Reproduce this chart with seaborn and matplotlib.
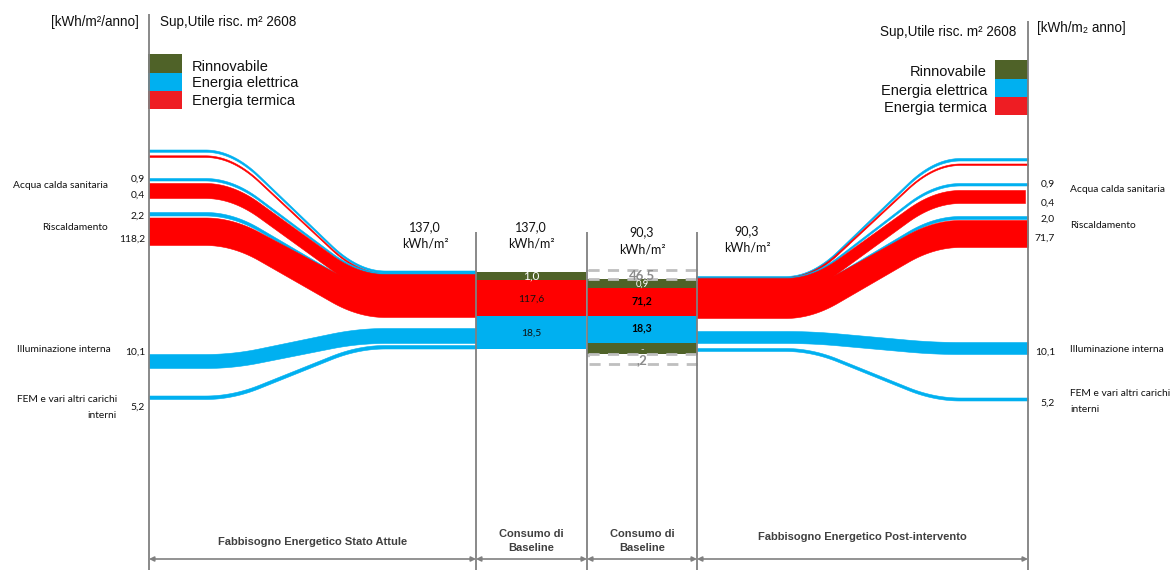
import numpy as np
import matplotlib
matplotlib.use("Agg")
import matplotlib.pyplot as plt
from matplotlib.patches import Rectangle
import seaborn as sns

# ---------------- data ----------------
legend_labels = ["Rinnovabile", "Energia elettrica", "Energia termica"]
end_uses = ["Acqua calda sanitaria", "Riscaldamento", "Illuminazione interna",
            "FEM e vari altri carichi\ninterni"]
before_thermal = [0.4, 118.2]            # ACS, Riscaldamento
before_electric = [0.9, 2.2, 10.1, 5.2]  # ACS, Risc, Illuminazione, FEM
after_thermal = [0.4, 71.7]
after_electric = [0.9, 2.0, 10.1, 5.2]
totals = [137.0, 137.0, 90.3, 90.3]
baseline_before = [1.0, 117.6, 18.5]     # rinnovabile, termica, elettrica
baseline_after = [0.9, 71.2, 18.3]
pv_top_label = "46,5"
pv_bottom_labels = ["-", ",2"]
section_labels = ["Fabbisogno Energetico Stato Attule", "Consumo di\nBaseline",
                  "Consumo di\nBaseline", "Fabbisogno Energetico Post-intervento"]
surface_label = "Sup,Utile risc. m² 2608"
unit_left = "[kWh/m²/anno]"
unit_right = "[kWh/m₂ anno]"


def fmt(v):
    return f"{v:.1f}".replace(".", ",")


# ---------------- style ----------------
sns.set_theme(style="white")
plt.rcParams["font.family"] = ["Liberation Sans", "DejaVu Sans"]

GREEN = "#4F6228"
BLUE = "#00B0F0"
RED = "#FF0000"
LRED = "#EE1D23"
GRAY = "#808080"
CAL = ["Lato", "DejaVu Sans"]
TXT = "#111111"

fig = plt.figure(figsize=(11.71, 5.70), dpi=100)
ax = fig.add_axes([0, 0, 1, 1])
ax.set_xlim(0, 1171)
ax.set_ylim(570, 0)
ax.axis("off")


def ease(x, xa, xb):
    t = np.clip((x - xa) / (xb - xa), 0, 1)
    f = 0.3
    k = 2 * f * (1 - f)
    s = np.where(t < f, t * t / k,
                 np.where(t > 1 - f, 1 - (1 - t) ** 2 / k, (t - f / 2) / (1 - f)))
    return s


def flow(x0, x1, xa, xb, a, b, color):
    x = np.linspace(x0, x1, 600)
    s = ease(x, xa, xb)
    top = a[0] + (b[0] - a[0]) * s
    bot = a[1] + (b[1] - a[1]) * s
    ax.fill_between(x, top, bot, color=color, lw=0.4, edgecolor=color)


# ---------------- left flows (stato attuale) ----------------
L0, L1, LA, LB = 149, 476, 205, 385
left_flows = [
    ((149.5, 151.8), (270.5, 272.5), BLUE),
    ((155.3, 157.0), (273.0, 274.5), RED),
    ((178.0, 180.5), (272.5, 274.5), BLUE),
    ((212.0, 215.5), (286.0, 288.0), BLUE),
    ((183.0, 198.0), (274.0, 289.0), RED),
    ((217.5, 245.0), (285.0, 317.0), RED),
    ((354.0, 368.0), (328.0, 343.0), BLUE),
    ((395.5, 399.0), (345.0, 348.5), BLUE),
]
for a, b, c in left_flows:
    flow(L0, L1, LA, LB, a, b, c)

# ---------------- right flows (post intervento) ----------------
R0, R1, RA, RB = 696, 1028, 785, 960
right_flows = [
    ((276.0, 278.0), (158.0, 160.5), BLUE),
    ((277.0, 279.0), (163.5, 165.0), RED),
    ((277.0, 279.0), (183.0, 185.5), BLUE),
    ((289.0, 291.0), (216.0, 219.0), BLUE),
    ((278.0, 292.0), (190.0, 203.0), RED),
    ((288.0, 318.0), (220.0, 247.0), RED),
    ((331.0, 343.0), (342.0, 354.0), BLUE),
    ((348.0, 351.0), (397.5, 400.5), BLUE),
]
for i, (a, b, c) in enumerate(right_flows):
    flow(R0, R1 - (3 if i == 4 else 0), RA, RB, a, b, c)

# ---------------- baseline bars ----------------
bar_x = [531, 642]
bar_w = 110
seg_before = [(272, 280, GREEN), (280, 316, RED), (316, 349, BLUE)]
seg_after = [(279, 288, GREEN), (288, 316, RED), (316, 343, BLUE), (343, 354, GREEN)]
for (t, b, c) in seg_before:
    ax.bar(bar_x[0], b - t, bottom=t, width=bar_w, color=c, linewidth=0)
for (t, b, c) in seg_after:
    ax.bar(bar_x[1], b - t, bottom=t, width=bar_w, color=c, linewidth=0)

for (y0, y1) in [(270, 279), (354, 364)]:
    ax.add_patch(Rectangle((588, y0), 108, y1 - y0, fill=False, edgecolor="#BFBFBF",
                           lw=2, linestyle=(0, (4, 3))))

ax.text(bar_x[0], 276, fmt(baseline_before[0]), color="white", ha="center", va="center",
        fontsize=8.5, family=CAL)
ax.text(bar_x[0], 299, fmt(baseline_before[1]), color=TXT, ha="center", va="center",
        fontsize=7.4, family=CAL)
ax.text(bar_x[0], 333, fmt(baseline_before[2]), color=TXT, ha="center", va="center",
        fontsize=7.4, family=CAL)
ax.text(bar_x[1], 275, pv_top_label, color="#8C8C8C", ha="center", va="center",
        fontsize=9.5, family=CAL, fontweight="bold")
ax.text(bar_x[1], 284, fmt(baseline_after[0]), color="white", ha="center", va="center",
        fontsize=6.8, family=CAL)
ax.text(bar_x[1], 301, fmt(baseline_after[1]), color="black", ha="center", va="center",
        fontsize=7.6, family=CAL, fontweight="bold")
ax.text(bar_x[1], 328, fmt(baseline_after[2]), color="black", ha="center", va="center",
        fontsize=7.6, family=CAL, fontweight="bold")
ax.text(bar_x[1], 350, pv_bottom_labels[0], color="#BFBFBF", ha="center", va="center",
        fontsize=7, family=CAL, fontweight="bold")
ax.text(bar_x[1], 360, pv_bottom_labels[1], color="#8C8C8C", ha="center", va="center",
        fontsize=9.5, family=CAL, fontweight="bold")

# totals
for x, y, v in zip([425, 531, 642, 747], [227, 227, 232, 231], totals):
    ax.text(x, y, fmt(v), ha="center", va="center", fontsize=9, family=CAL, color=TXT)
    ax.text(x, y + 17, "kWh/m²", ha="center", va="center", fontsize=9, family=CAL,
            color=TXT)

# ---------------- axes lines and arrows ----------------
ax.vlines(149, 14, 570, color=GRAY, lw=1.3)
ax.vlines(1028, 21, 570, color=GRAY, lw=1.3)
for x in [476, 587, 697]:
    ax.vlines(x, 232, 570, color=GRAY, lw=1.3)

spans = [(149, 476), (476, 587), (587, 697), (697, 1028)]
for (xa, xb), lab, ty in zip(spans, section_labels, [542, 541, 541, 537]):
    ax.annotate("", xy=(xb, 559), xytext=(xa, 559),
                arrowprops=dict(arrowstyle="<|-|>", color=GRAY, lw=1.2,
                                mutation_scale=7, shrinkA=0, shrinkB=0))
    ax.text((xa + xb) / 2, ty, lab, ha="center", va="center", fontsize=8,
            fontweight="bold", color="#404040", linespacing=1.45)

# ---------------- header / legend ----------------
ax.text(95, 22, unit_left, ha="center", va="center", fontsize=9.75, color=TXT)
ax.text(160, 22, surface_label, ha="left", va="center", fontsize=9.75, color=TXT)
ax.text(1016, 32, surface_label, ha="right", va="center", fontsize=9.75, color=TXT)
ax.text(1037, 28, unit_right, ha="left", va="center", fontsize=9.75, color=TXT)

leg_colors = [GREEN, BLUE, LRED]
for (t, b), c, lab, ly in zip([(54, 73), (73, 91), (91, 109)], leg_colors, legend_labels,
                              [67, 83, 101]):
    ax.bar(165, b - t, bottom=t, width=34, color=c, linewidth=0)
    ax.text(192, ly, lab, ha="left", va="center", fontsize=10.5, color=TXT)
for (t, b), c, lab, ly in zip([(60, 79), (79, 97), (97, 115)], leg_colors, legend_labels,
                              [72, 91, 108]):
    ax.bar(1011.5, b - t, bottom=t, width=33, color=c, linewidth=0)
    ax.text(987, ly, lab, ha="right", va="center", fontsize=10.5, color=TXT)

# ---------------- side labels ----------------
FS = 7.4
# left values
for v, y in zip([before_electric[0], before_thermal[0], before_electric[1], before_thermal[1],
                 before_electric[2], before_electric[3]],
                [179, 195, 216, 239, 352, 407]):
    ax.text(145, y, fmt(v), ha="right", va="center", fontsize=FS, family=CAL, color=TXT)
for lab, y, xr in zip(end_uses, [185, 228, 349, 408], [108, 108, 111, 117]):
    ax.text(xr, y, lab, ha="right", va="center", fontsize=FS, family=CAL, color=TXT,
            linespacing=2.0)
# right values
for v, y in zip([after_electric[0], after_thermal[0], after_electric[1], after_thermal[1],
                 after_electric[2], after_electric[3]],
                [184, 203, 219, 238, 352, 403]):
    ax.text(1055, y, fmt(v), ha="right", va="center", fontsize=FS, family=CAL, color=TXT)
for lab, y in zip(end_uses, [190, 225, 349, 401]):
    ax.text(1070, y, lab, ha="left", va="center", fontsize=FS, family=CAL, color=TXT,
            linespacing=2.0)

fig.savefig("out.png", dpi=100)
